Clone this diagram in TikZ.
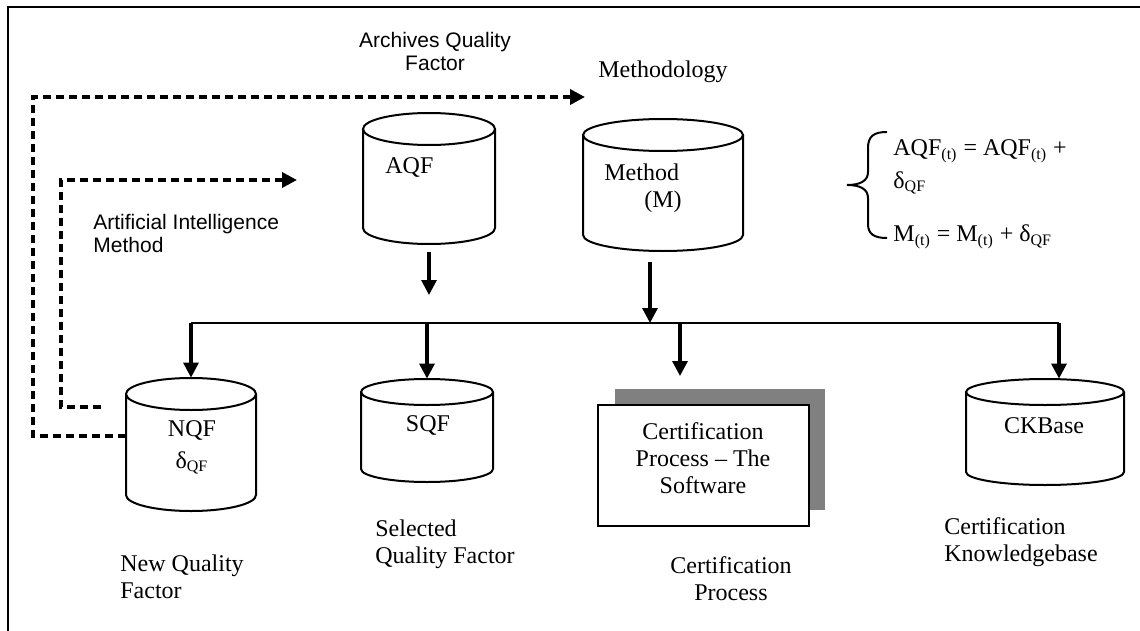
\documentclass[tikz,border=0pt]{standalone}
\usepackage{fontspec}
\setmainfont{Liberation Serif}
\newfontfamily\arialfont{Liberation Sans}
\usetikzlibrary{arrows.meta,calc}
\definecolor{shadowgray}{HTML}{808080}

% name, cx, top, bottom, rx, ry  (pixel units, y downward)
\newcommand\mycyl[6]{%
  \draw[cylline,fill=white] ({#2-#5},{#3+#6}) -- ({#2-#5},{#4-#6})
     arc[start angle=180,end angle=360,x radius={#5*0.5pt},y radius={#6*0.5pt}]
     -- ({#2+#5},{#3+#6});
  \draw[cylline] (#2,{#3+#6}) ellipse[x radius={#5*0.5pt},y radius={#6*0.5pt}];
  \node[inner sep=0pt,minimum width={#5*1pt},minimum height={(#4-#3)*0.5pt}] (#1) at (#2,{(#3+#4)/2}) {};
}

\begin{document}
\begin{tikzpicture}[x=0.5pt,y=-0.5pt,
  cylline/.style={line width=1pt},
  arr/.style={line width=1.6pt,-{Triangle[length=7.5pt,width=7.5pt]}},
  dashline/.style={line width=1.8pt,dash pattern=on 4pt off 2.5pt,-{Triangle[length=7.5pt,width=7.5pt]}},
  serif/.style={font=\fontsize{12}{13.5}\selectfont,inner sep=0pt},
  sans/.style={font=\arialfont\fontsize{10.5}{11.5}\selectfont,inner sep=0pt}]
\useasboundingbox (0,0) rectangle (1140,631);
% frame
\draw[line width=1pt] (8,631) -- (8,7) -- (1140,7);

% top labels
\node[sans,align=center] (aqflbl) at (435,51) {Archives Quality\\Factor};
\node[serif] (methlbl) at (663,72) {Methodology};
\node[sans,align=left,anchor=west] (ailbl) at (93,233.5) {Artificial Intelligence\\Method};

% cylinders
\mycyl{aqf}{429}{113}{244}{66}{16}
\mycyl{meth}{663}{119}{251}{80}{16}
\mycyl{nqf}{191}{378}{511}{65}{16}
\mycyl{sqf}{427}{379}{482}{66}{13}
\mycyl{ck}{1045}{379}{485}{79}{13}

% cylinder texts
\node[serif,anchor=west] (aqft) at (385,167) {AQF};
\node[serif,anchor=west] (metht) at (604,172) {Method};
\node[serif] (mt) at (663,202) {(M)};
\node[serif] (nqft) at (192,430) {NQF};
\node[serif] (nqfd) at (192,463) {δ\textsubscript{QF}};
\node[serif] (sqft) at (428,425) {SQF};
\node[serif] (ckt) at (1044,426) {CKBase};

% certification process box with shadow
\fill[shadowgray] (615,389) rectangle (825,510);
\node[draw,fill=white,line width=1pt,minimum width=105.5pt,minimum height=60.5pt,inner sep=0pt] (cp) at (703.5,465.5) {};
\node[serif,align=center] (cpt) at (703,458) {Certification\\Process – The\\Software};

% bottom labels
\node[serif,align=left,anchor=west] (nqfl) at (120,577) {New Quality\\Factor};
\node[serif,align=left,anchor=west] (sqfl) at (375,544) {Selected\\Quality Factor};
\node[serif,align=center] (cpl) at (731,579) {Certification\\Process};
\node[serif,align=left,anchor=west] (ckl) at (944,542) {Certification\\Knowledgebase};

% equations
\node[serif,anchor=west] (eq1) at (893,151) {AQF\textsubscript{(t)} = AQF\textsubscript{(t)} +};
\node[serif,anchor=west] (eq1b) at (893,183) {δ\textsubscript{QF}};
\node[serif,anchor=west] (eq2) at (893,237) {M\textsubscript{(t)} = M\textsubscript{(t)} + δ\textsubscript{QF}};
\draw[line width=1pt] (887,132) .. controls (874,132) and (868,136) .. (868,148) -- (868,172)
   .. controls (868,181) and (860,185) .. (847,185)
   .. controls (860,185) and (868,189) .. (868,198) -- (868,224)
   .. controls (868,234) and (874,238) .. (887,238);

% solid arrows
\coordinate (aqfend) at (429,295);
\draw[arr] ([yshift=-4pt]aqf.south) -- (aqfend);
\coordinate (mtap) at (650,323);
\draw[arr] ([xshift=-6.5pt,yshift=-5.5pt]meth.south) -- (mtap);
\coordinate (busL) at (191,323);
\coordinate (busR) at (1059,323);
\draw[line width=1pt] (busL) -- (busR);
\draw[arr] (busL) -- (nqf.north);
\draw[arr] (sqf.north |- busL) -- (sqf.north);
\coordinate (cptap) at (680,323);
\coordinate (cpend) at (680,376);
\draw[arr] (cptap) -- (cpend);
\draw[arr] (busR) -- (busR |- ck.north);

% dashed feedback arrows
\coordinate (outerEnd) at (585,97);
\draw[dashline] ([yshift=4.25pt]nqf.west) -| (33,97) -- (outerEnd);
\coordinate (innerStart) at (101,407);
\coordinate (innerEnd) at (297,180);
\draw[dashline] (innerStart) -| (61,180) -- (innerEnd);
\end{tikzpicture}
\end{document}
